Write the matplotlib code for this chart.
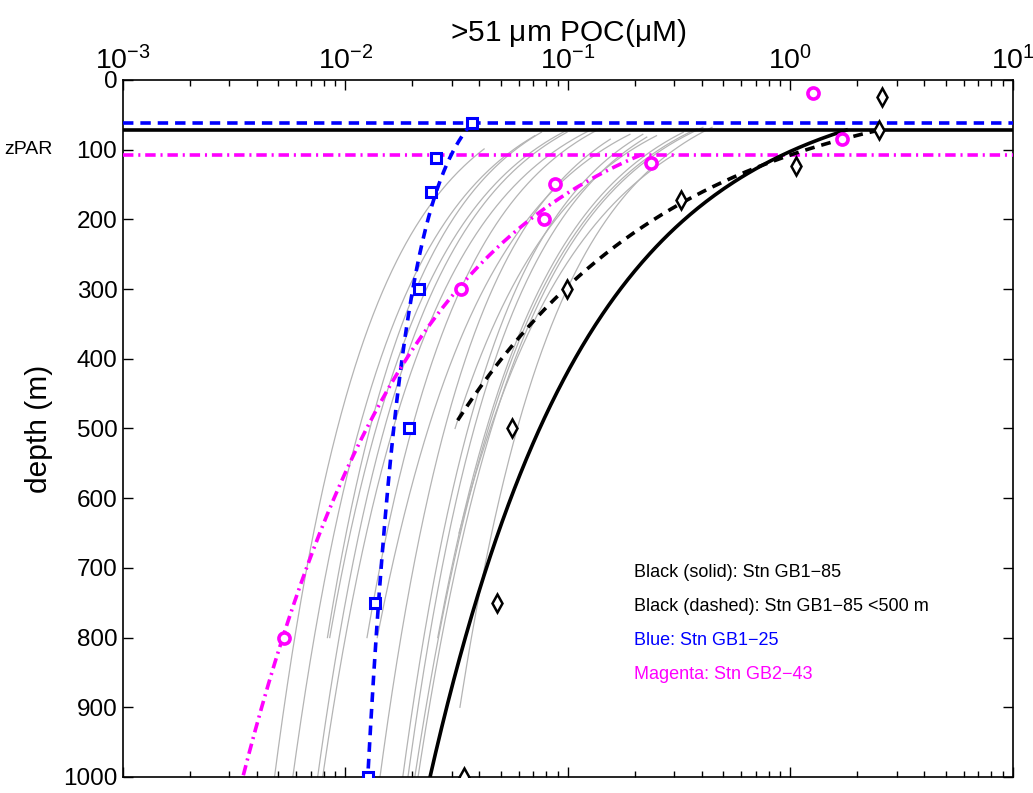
import numpy as np
import matplotlib
matplotlib.use("Agg")
import matplotlib.pyplot as plt
from matplotlib.ticker import LogLocator, NullFormatter, FixedLocator

plt.rcParams['font.family'] = ['Liberation Sans', 'DejaVu Sans']
plt.rcParams['mathtext.fontset'] = 'custom'
plt.rcParams['mathtext.rm'] = 'Liberation Sans'
plt.rcParams['mathtext.it'] = 'Liberation Sans:italic'
plt.rcParams['mathtext.default'] = 'regular'
plt.rcParams['lines.scale_dashes'] = False

# ---------------- data ----------------
# Station observations (depth m, >51 um POC uM)
gb185_depth = [25, 72, 123, 172, 300, 500, 750, 1000]
gb185_poc = [2.58, 2.5, 1.06, 0.322, 0.099, 0.056, 0.048, 0.034]

gb125_depth = [62, 112, 161, 300, 500, 750, 1000]
gb125_poc = [0.037, 0.0255, 0.0242, 0.0214, 0.0193, 0.0136, 0.0126]

gb243_depth = [19, 85, 119, 149, 199, 300, 800]
gb243_poc = [1.26, 1.70, 0.236, 0.0875, 0.078, 0.033, 0.0053]

# zPAR of each station (m)
zpar_gb185 = 72
zpar_gb125 = 62
zpar_gb243 = 107

# Martin-curve fits: (top depth, POC at top, bottom depth, POC at bottom)
fit_gb185_solid = (72, 1.78, 1000, 0.024)
fit_gb185_dashed = (72, 2.5, 490, 0.0317)
fit_gb125 = (62, 0.037, 1000, 0.0126)
fit_gb243 = (107, 0.215, 1000, 0.00346)

# Other stations' Martin fits (grey)
grey_top_depth = [99, 80, 75, 75, 70, 72, 70, 85, 78, 78, 82, 70, 68, 68, 107, 80, 75]
grey_top_poc = [0.042, 0.071, 0.076, 0.099, 0.102, 0.126, 0.139, 0.155, 0.19, 0.217,
                0.226, 0.38, 0.404, 0.444, 0.30, 0.25, 0.33]
grey_bot_depth = [1000, 1000, 800, 1000, 800, 1000, 800, 1000, 800, 1000, 1000, 1000,
                  1000, 900, 650, 500, 800]
grey_bot_poc = [0.0048, 0.0058, 0.0083, 0.0075, 0.0085, 0.0079, 0.0125, 0.0143, 0.0139,
                0.0181, 0.0191, 0.0205, 0.0212, 0.0327, 0.0324, 0.0311, 0.026]

legend_lines = ["Black (solid): Stn GB1\u221285",
                "Black (dashed): Stn GB1\u221285 <500 m",
                "Blue: Stn GB1\u221225",
                "Magenta: Stn GB2\u221243"]
legend_colors = ['black', 'black', '#0000ff', '#ff00ff']
yticks = list(range(0, 1001, 100))


def martin(z_top, f_top, z_bot, f_bot):
    b = np.log(f_top / f_bot) / np.log(z_bot / z_top)
    z = np.linspace(z_top, z_bot, 300)
    return z, f_top * (z / z_top) ** (-b)


# ---------------- figure ----------------
fig = plt.figure(figsize=(10.33, 7.93), dpi=100)
ax = fig.add_axes([0.119, 0.0202, 0.8616, 0.8790])
ax.set_xscale('log')
ax.set_xlim(1e-3, 10)
ax.set_ylim(1000, 0)

for zt, ft, zb, fb in zip(grey_top_depth, grey_top_poc, grey_bot_depth, grey_bot_poc):
    z, f = martin(zt, ft, zb, fb)
    ax.plot(f, z, color='#b4b4b4', lw=0.9, zorder=1)

# zPAR lines
ax.axhline(zpar_gb125, color='#0000ff', lw=2.6, dashes=(7.5, 5), zorder=3)
ax.axhline(zpar_gb185, color='black', lw=2.6, zorder=3)
ax.axhline(zpar_gb243, color='#ff00ff', lw=2.6, dashes=(7.5, 3.5, 1.5, 3.5), zorder=3)

# fits
z, f = martin(*fit_gb185_solid)
ax.plot(f, z, color='black', lw=2.6, zorder=4)
z, f = martin(*fit_gb185_dashed)
ax.plot(f, z, color='black', lw=2.6, dashes=(7, 5), zorder=4)
z, f = martin(*fit_gb125)
ax.plot(f, z, color='#0000ff', lw=2.6, dashes=(7, 5), zorder=4)
z, f = martin(*fit_gb243)
ax.plot(f, z, color='#ff00ff', lw=2.6, dashes=(7.5, 3.5, 1.5, 3.5), zorder=4)

# observations
ax.plot(gb185_poc, gb185_depth, ls='none', marker='d', ms=9, mfc='white',
        mec='black', mew=1.8, zorder=5)
ax.plot(gb125_poc, gb125_depth, ls='none', marker='s', ms=7, mfc='white',
        mec='#0000ff', mew=2.2, zorder=5)
ax.plot(gb243_poc, gb243_depth, ls='none', marker='o', ms=8, mfc='white',
        mec='#ff00ff', mew=2.6, zorder=5)

# axes styling
ax.xaxis.tick_top()
ax.xaxis.set_label_position('top')
ax.xaxis.set_major_locator(LogLocator(base=10, numticks=10))
ax.xaxis.set_minor_locator(LogLocator(base=10, subs=np.arange(2, 10), numticks=20))
ax.xaxis.set_minor_formatter(NullFormatter())
ax.yaxis.set_major_locator(FixedLocator(yticks))
ax.tick_params(axis='both', which='both', direction='in', top=True, bottom=True,
               left=True, right=True, width=1.0)
ax.tick_params(axis='both', which='major', length=7)
ax.tick_params(axis='y', which='major', labelsize=17.5, pad=4)
ax.tick_params(axis='x', which='major', labelsize=20.5, pad=3)
ax.tick_params(axis='x', which='minor', length=4)
for s in ax.spines.values():
    s.set_linewidth(1.2)

ax.set_xlabel(r'>51 $\mu$m POC($\mu$M)', fontsize=21.5, labelpad=4)
ax.set_ylabel('depth (m)', fontsize=21.5, labelpad=7)

ax.text(-0.1335, 100, 'zPAR', transform=ax.get_yaxis_transform(), fontsize=14,
        ha='left', va='center')

for i, (txt, col) in enumerate(zip(legend_lines, legend_colors)):
    ax.text(0.198, 706 + 49 * i, txt, color=col, fontsize=13, ha='left', va='center')

fig.savefig('out.png', dpi=100)
